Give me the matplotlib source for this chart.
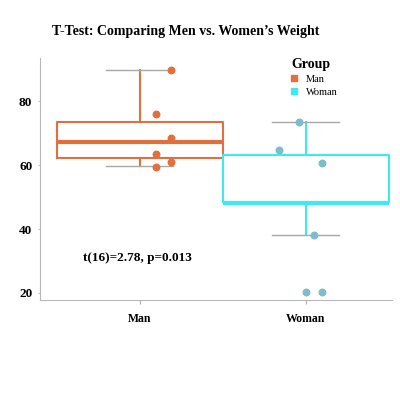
import matplotlib
matplotlib.use("Agg")
import matplotlib.pyplot as plt
from matplotlib.lines import Line2D

plt.rcParams['font.family'] = ['Liberation Serif', 'DejaVu Serif']

groups = ["Man", "Woman"]
colors = ["#E2703F", "#3CEAF2"]
point_colors = ["#E2703F", "#7DBDC9"]

# box summary per group
q1 = [62.3, 48.4]
med = [67.3, 48.3]
q3 = [73.4, 63.1]
whislo = [59.7, 38.2]
whishi = [89.8, 73.4]

# individual observations with their horizontal jitter
man_vals = [89.8, 76.2, 68.5, 63.5, 60.9, 59.4]
man_jit = [0.19, 0.10, 0.19, 0.10, 0.19, 0.10]
woman_vals = [73.4, 64.7, 60.8, 38.2, 20.4, 20.4]
woman_jit = [-0.04, -0.16, 0.10, 0.05, 0.0, 0.10]

fig = plt.figure(figsize=(4, 4), dpi=100)
ax = fig.add_axes([0.1, 0.25, 0.88, 0.605])

stats = []
for i, g in enumerate(groups):
    stats.append(dict(label=g, q1=q1[i], med=med[i], q3=q3[i],
                      whislo=whislo[i], whishi=whishi[i], fliers=[]))

for i in range(2):
    ax.bxp([stats[i]], positions=[i], widths=1.0, showfliers=False,
           boxprops=dict(color=colors[i], lw=1.5),
           medianprops=dict(color=colors[i], lw=3),
           whiskerprops=dict(color=colors[i], lw=1.5),
           capprops=dict(color="#A8A8A8", lw=1.0),
           capwidths=0.4, manage_ticks=False, zorder=2)

ax.scatter([0 + j for j in man_jit], man_vals, s=22, color=point_colors[0], zorder=3)
ax.scatter([1 + j for j in woman_jit], woman_vals, s=22, color=point_colors[1], zorder=3)

ax.set_xlim(-0.6, 1.52)
ax.set_ylim(17.8, 93.6)
ax.set_xticks([0, 1])
ax.set_xticklabels(groups, fontweight="bold", fontsize=8.5)
ax.set_yticks([20, 40, 60, 80])
ax.tick_params(axis="y", labelsize=9.5, length=1.5, color="#C8C8C8", pad=4)
ax.tick_params(axis="x", length=3, color="#B0B0B0", pad=6)
for lab in ax.get_yticklabels():
    lab.set_fontweight("bold")
for s in ["top", "right"]:
    ax.spines[s].set_visible(False)
for s in ["left", "bottom"]:
    ax.spines[s].set_color("#B8B8B8")
    ax.spines[s].set_linewidth(0.8)

ax.text(-0.34, 31, "t(16)=2.78, p=0.013", fontsize=9.5, fontweight="bold", va="center")

handles = [Line2D([], [], marker="s", ls="", color=colors[i], markersize=5) for i in range(2)]
leg = ax.legend(handles, groups, title="Group", loc="upper left",
                bbox_to_anchor=(0.67, 1.03), frameon=False, fontsize=7.5,
                handletextpad=0.2, labelspacing=0.35, borderpad=0.2)
leg.get_title().set_fontweight("bold")
leg.get_title().set_fontsize(10)

fig.text(0.13, 0.92, "T-Test: Comparing Men vs. Women\u2019s Weight",
         fontsize=10, fontweight="bold", va="center")

fig.savefig("out.png", dpi=100, facecolor="white")
